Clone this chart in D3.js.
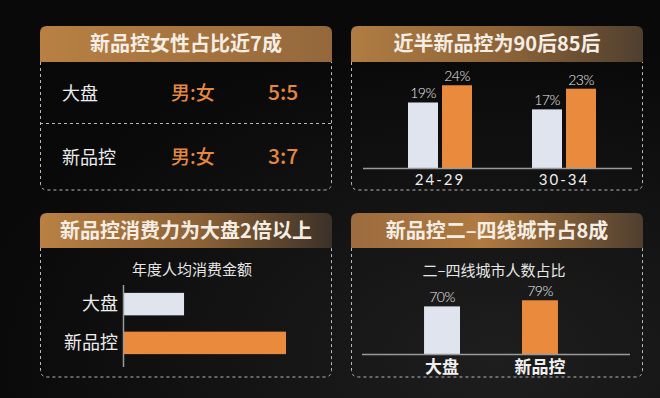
<!DOCTYPE html>
<html>
<head>
<meta charset="utf-8">
<script src="https://cdn.jsdelivr.net/npm/d3@7"></script>
<style>
  html, body { margin: 0; padding: 0; background: #0b0b0b; }
  svg { display: block; font-family: "Noto Sans CJK SC", "Noto Sans", sans-serif; }
</style>
</head>
<body>
<div id="chart"></div>
<script>
// panel titles
const titles = ["新品控女性占比近7成", "近半新品控为90后85后", "新品控消费力为大盘2倍以上", "新品控二–四线城市占8成"];

// panel 1: gender ratio
const genderRows = ["大盘", "新品控"];
const genderRatio = ["5:5", "3:7"];

// panel 2: age groups
const ageGroups = ["24-29", "30-34"];
const ageMarket = [19, 17];
const ageFans = [24, 23];

// panel 3: per-capita spend (index)
const spendCats = ["大盘", "新品控"];
const spendValues = [100, 267];

// panel 4: tier 2-4 city share
const cityCats = ["大盘", "新品控"];
const cityValues = [70, 79];

const W = 660, H = 398;
const LIGHT = "#dfe4ef", ORANGE = "#e98a3d";

const svg = d3.select("#chart").append("svg").attr("width", W).attr("height", H);
const defs = svg.append("defs");

const bg = defs.append("radialGradient").attr("id", "bg")
  .attr("cx", "75%").attr("cy", "90%").attr("r", "80%");
bg.append("stop").attr("offset", "0%").attr("stop-color", "#1e1e1e");
bg.append("stop").attr("offset", "100%").attr("stop-color", "#090909");
svg.append("rect").attr("width", W).attr("height", H).attr("fill", "url(#bg)");

const headerStops = [
  [["0%", "#b88043"], ["100%", "#94683c"]],
  [["0%", "#b07c42"], ["55%", "#8a6238"], ["100%", "#4f3f2f"]],
  [["0%", "#b98143"], ["55%", "#8c6237"], ["100%", "#3b3128"]],
  [["0%", "#9c6c3e"], ["45%", "#b07a40"], ["100%", "#4f3f2f"]]
];
headerStops.forEach((stops, i) => {
  const g = defs.append("linearGradient").attr("id", "hg" + i)
    .attr("x1", "0%").attr("y1", "0%").attr("x2", "100%").attr("y2", "0%");
  g.selectAll("stop").data(stops).enter().append("stop")
    .attr("offset", d => d[0]).attr("stop-color", d => d[1]);
});

const panels = [
  { x: 40, y: 26, w: 292, hh: 36, bottom: 190 },
  { x: 351, y: 26, w: 292, hh: 36, bottom: 190 },
  { x: 40, y: 213, w: 292, hh: 35, bottom: 377 },
  { x: 351, y: 213, w: 292, hh: 35, bottom: 377 }
];

function topRounded(x, y, w, h, r) {
  return `M${x},${y + h}V${y + r}Q${x},${y} ${x + r},${y}H${x + w - r}Q${x + w},${y} ${x + w},${y + r}V${y + h}Z`;
}
function bottomRounded(x, y, w, b, r) {
  return `M${x},${y}V${b - r}Q${x},${b} ${x + r},${b}H${x + w - r}Q${x + w},${b} ${x + w},${b - r}V${y}`;
}

panels.forEach((p, i) => {
  svg.append("path")
    .attr("d", bottomRounded(p.x + 0.5, p.y + p.hh, p.w - 1, p.bottom, 7))
    .attr("fill", "none").attr("stroke", "#b8b8b8").attr("stroke-width", 1)
    .attr("stroke-dasharray", "3,3");
  svg.append("path")
    .attr("d", topRounded(p.x, p.y, p.w, p.hh, 7))
    .attr("fill", `url(#hg${i})`);
  svg.append("text")
    .attr("x", p.x + p.w / 2).attr("y", p.y + p.hh / 2 + 7)
    .attr("text-anchor", "middle")
    .attr("font-size", 20).attr("font-weight", "bold")
    .attr("fill", "#f6eee4")
    .text(titles[i]);
});

// ---- panel 1: ratio table
{
  const p = panels[0];
  const rowY = d3.scaleBand().domain(genderRows).range([p.y + p.hh, p.bottom]);
  svg.append("line")
    .attr("x1", p.x).attr("x2", p.x + p.w)
    .attr("y1", 123.5).attr("y2", 123.5)
    .attr("stroke", "#b8b8b8").attr("stroke-dasharray", "3,3");
  const rows = svg.append("g").selectAll("g").data(genderRows).enter().append("g")
    .attr("transform", d => `translate(0,${rowY(d) + rowY.bandwidth() / 2 + 6})`);
  rows.append("text").attr("x", 62).attr("font-size", 18).attr("fill", "#ececec").text(d => d);
  rows.append("text").attr("x", 171).attr("font-size", 19).attr("font-weight", 500)
    .attr("fill", "#e4883e").text("男:女");
  rows.append("text").attr("x", 268).attr("font-size", 21).attr("font-weight", 500)
    .attr("fill", "#e4883e").text((d, i) => genderRatio[i]);
}

// ---- panel 2: grouped bars
{
  const base = 168;
  const x0 = d3.scaleBand().domain(ageGroups).range([378, 626]).paddingInner(0.484).paddingOuter(0.242);
  const x1 = d3.scaleBand().domain(["market", "fans"]).range([0, x0.bandwidth()]).paddingInner(0.118);
  const y = d3.scaleLinear().domain([0, 29]).range([base, base - 100]);
  const g = svg.append("g");
  const groups = g.selectAll("g").data(ageGroups).enter().append("g")
    .attr("transform", d => `translate(${x0(d)},0)`);
  const vals = (d, i) => [{ k: "market", v: ageMarket[i] }, { k: "fans", v: ageFans[i] }];
  groups.selectAll("rect").data(vals).enter().append("rect")
    .attr("x", d => x1(d.k)).attr("width", x1.bandwidth())
    .attr("y", d => y(d.v)).attr("height", d => base - y(d.v))
    .attr("fill", d => d.k === "market" ? LIGHT : ORANGE);
  groups.selectAll("text").data(vals).enter().append("text")
    .attr("x", d => x1(d.k) + x1.bandwidth() / 2).attr("y", d => y(d.v) - 4)
    .attr("text-anchor", "middle").attr("font-size", 14).attr("fill", "#eeeeee")
    .attr("font-family", "Lato, sans-serif").attr("font-weight", 300).attr("letter-spacing", -0.5)
    .text(d => d.v + "%");
  const axis = g.append("g").attr("transform", `translate(0,${base})`)
    .call(d3.axisBottom(x0).tickSize(0).tickPadding(6));
  axis.select(".domain").attr("d", "M363,0.5H632").attr("stroke", "#9a9a9a").attr("stroke-width", 1.5);
  axis.selectAll("text").attr("font-size", 15).attr("fill", "#eeeeee")
    .attr("letter-spacing", 2).attr("font-family", "Lato, sans-serif");
}

// ---- panel 3: horizontal bars
{
  svg.append("text").attr("x", 192).attr("y", 275).attr("text-anchor", "middle")
    .attr("font-size", 15).attr("fill", "#e6e6e6").text("年度人均消费金额");
  const y = d3.scaleBand().domain(spendCats).range([289, 358]).paddingInner(0.42).paddingOuter(0.1);
  const x = d3.scaleLinear().domain([0, 267]).range([123, 286]);
  const g = svg.append("g");
  g.selectAll("rect").data(spendCats).enter().append("rect")
    .attr("x", x(0)).attr("y", d => y(d))
    .attr("width", (d, i) => x(spendValues[i]) - x(0)).attr("height", y.bandwidth())
    .attr("fill", (d, i) => i === 0 ? LIGHT : ORANGE);
  const axis = g.append("g").attr("transform", `translate(${x(0)},0)`)
    .call(d3.axisLeft(y).tickSize(0).tickPadding(5));
  axis.select(".domain").attr("d", "M0.5,285V367").attr("stroke", "#9a9a9a").attr("stroke-width", 1.5);
  axis.selectAll("text").attr("font-size", 18).attr("fill", "#ececec")
    .attr("font-family", "Noto Sans CJK SC, sans-serif");
}

// ---- panel 4: vertical bars
{
  const base = 354;
  svg.append("text").attr("x", 494).attr("y", 276).attr("text-anchor", "middle")
    .attr("font-size", 15).attr("fill", "#e6e6e6").text("二–四线城市人数占比");
  const x = d3.scaleBand().domain(cityCats).range([392, 590]).paddingInner(0.633).paddingOuter(0.327);
  const y = d3.scaleLinear().domain([0, 100]).range([base, base - 68]);
  const g = svg.append("g");
  g.selectAll("rect").data(cityCats).enter().append("rect")
    .attr("x", d => x(d)).attr("width", x.bandwidth())
    .attr("y", (d, i) => y(cityValues[i])).attr("height", (d, i) => base - y(cityValues[i]))
    .attr("fill", (d, i) => i === 0 ? LIGHT : ORANGE);
  g.selectAll(".v").data(cityCats).enter().append("text")
    .attr("x", d => x(d) + x.bandwidth() / 2).attr("y", (d, i) => y(cityValues[i]) - 4)
    .attr("text-anchor", "middle").attr("font-size", 14).attr("fill", "#eeeeee")
    .attr("font-family", "Lato, sans-serif").attr("font-weight", 300).attr("letter-spacing", -0.5)
    .text((d, i) => cityValues[i] + "%");
  const axis = g.append("g").attr("transform", `translate(0,${base})`)
    .call(d3.axisBottom(x).tickSize(0).tickPadding(4));
  axis.select(".domain").attr("d", "M362,0.5H630").attr("stroke", "#9a9a9a").attr("stroke-width", 1.5);
  axis.selectAll("text").attr("font-size", 17).attr("font-weight", "bold").attr("fill", "#f0f0f0")
    .attr("dy", "0.9em").attr("font-family", "Noto Sans CJK SC, sans-serif");
}
</script>
</body>
</html>
